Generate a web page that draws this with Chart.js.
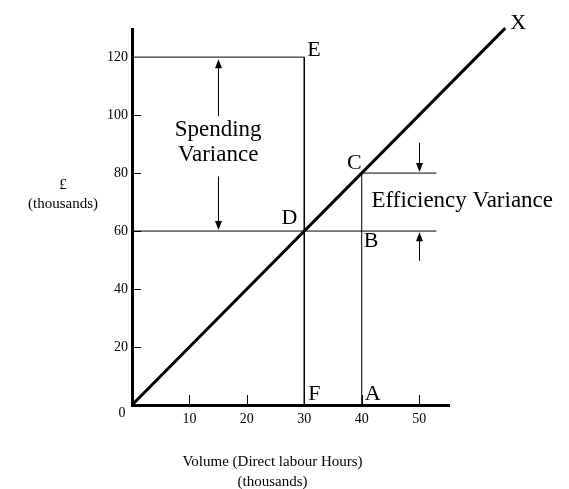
<!DOCTYPE html>
<html>
<head>
<meta charset="utf-8">
<script src="https://cdn.jsdelivr.net/npm/chart.js@4.4.1/dist/chart.umd.min.js"></script>
<style>
  html, body { margin: 0; background: #fff; }
</style>
</head>
<body>
<canvas id="myChart" width="569" height="489"></canvas>
<script>
const SERIF = "'Liberation Serif', 'Times New Roman', serif";

// dati del grafico (migliaia di ore / migliaia di sterline)
const costLine = [{ x: 0, y: 0 }, { x: 65, y: 130 }];          // O -> X
const spendBox = [{ x: 0, y: 120 }, { x: 30, y: 120 }, { x: 30, y: 0 }]; // E, F
const standardLine = [{ x: 0, y: 60 }, { x: 53, y: 60 }];       // D, B
const actualBox = [{ x: 40, y: 0 }, { x: 40, y: 80 }, { x: 53, y: 80 }]; // A, C

const xTickValues = [10, 20, 30, 40, 50];
const yTickValues = [20, 40, 60, 80, 100, 120];

// frecce: posizione x, inizio asta, punta
const arrowX = [15, 15, 50, 50];
const arrowFrom = [99.6, 78.8, 90.5, 49.8];
const arrowTo = [119.3, 60.4, 80.4, 59.6];

const pointNames = ['E', 'X', 'C', 'D', 'B', 'F', 'A'];
const pointX = [30, 65, 40, 30, 40, 30, 40];
const pointY = [120, 130, 80, 60, 60, 0, 0];

const noteTexts = [['Spending', 'Variance'], ['Efficiency Variance']];
const noteX = [15, 41.7];
const noteY = [90.5, 70.4];

const yTitle = ['£', '(thousands)'];
const xTitle = ['Volume (Direct labour Hours)', '(thousands)'];

function lineSet(data, width) {
  return {
    data, showLine: true, borderColor: '#000', borderWidth: width,
    pointRadius: 0, tension: 0, clip: false, fill: false
  };
}

const annotations = {
  id: 'annotations',
  afterDatasetsDraw(chart) {
    const { ctx, scales: { x, y } } = chart;
    const x0 = x.getPixelForValue(0);
    const y0 = y.getPixelForValue(0);
    ctx.save();
    ctx.strokeStyle = '#000';
    ctx.fillStyle = '#000';
    ctx.lineWidth = 1;

    // tacche interne
    ctx.beginPath();
    yTickValues.filter(v => v < 120).forEach(v => {
      const py = Math.round(y.getPixelForValue(v)) + 0.5;
      ctx.moveTo(x0, py); ctx.lineTo(x0 + 9, py);
    });
    xTickValues.forEach(v => {
      const px = Math.round(x.getPixelForValue(v)) + 0.5;
      ctx.moveTo(px, y0); ctx.lineTo(px, y0 - 10);
    });
    ctx.stroke();

    // frecce
    arrowX.forEach((v, i) => {
      const px = Math.round(x.getPixelForValue(v)) + 0.5;
      const pf = y.getPixelForValue(arrowFrom[i]);
      const pt = y.getPixelForValue(arrowTo[i]);
      const dir = pt < pf ? 1 : -1;
      ctx.beginPath();
      ctx.moveTo(px, pf); ctx.lineTo(px, pt + dir * 8);
      ctx.stroke();
      ctx.beginPath();
      ctx.moveTo(px, pt);
      ctx.lineTo(px - 3.5, pt + dir * 9);
      ctx.lineTo(px + 3.5, pt + dir * 9);
      ctx.closePath();
      ctx.fill();
    });

    // lettere
    const offs = { E: [3, -7, 'left'], X: [5, -5, 'left'], C: [0, -10, 'right'], D: [-7, -13, 'right'],
                   B: [2, 10, 'left'], F: [4, -11, 'left'], A: [3, -11, 'left'] };
    ctx.font = '22px ' + SERIF;
    ctx.textBaseline = 'middle';
    pointNames.forEach((n, i) => {
      const o = offs[n];
      ctx.textAlign = o[2];
      ctx.fillText(n, x.getPixelForValue(pointX[i]) + o[0], y.getPixelForValue(pointY[i]) + o[1]);
    });

    // note
    ctx.font = '23px ' + SERIF;
    noteTexts.forEach((lines, i) => {
      ctx.textAlign = lines.length > 1 ? 'center' : 'left';
      lines.forEach((t, j) => {
        ctx.fillText(t, x.getPixelForValue(noteX[i]), y.getPixelForValue(noteY[i]) + (j - (lines.length - 1) / 2) * 25);
      });
    });

    // origine e titoli
    ctx.font = '14px ' + SERIF;
    ctx.textAlign = 'center';
    ctx.fillText('0', x0 - 10, y0 + 8);
    ctx.font = '15px ' + SERIF;
    yTitle.forEach((t, j) => ctx.fillText(t, 63, y.getPixelForValue(76) + j * 19));
    xTitle.forEach((t, j) => ctx.fillText(t, x0 + 140.5, y0 + 57 + j * 20));
    ctx.restore();
  }
};

const ctx = document.getElementById('myChart').getContext('2d');
const chart = new Chart(ctx, {
  type: 'scatter',
  data: {
    datasets: [
      lineSet(spendBox, 1),
      lineSet(standardLine, 1),
      lineSet(actualBox, 1),
      lineSet(costLine, 3)
    ]
  },
  options: {
    responsive: false,
    animation: false,
    layout: { padding: { left: 0, top: 29, right: 120, bottom: 0 } },
    plugins: { legend: { display: false }, tooltip: { enabled: false } },
    scales: {
      x: {
        type: 'linear', min: 0, max: 55.2,
        grid: { display: false, drawTicks: false },
        border: { display: true, width: 3, color: '#000' },
        ticks: {
          stepSize: 10, includeBounds: false, padding: 6, color: '#000',
          font: { family: SERIF, size: 14 },
          callback: v => xTickValues.includes(v) ? String(v) : ''
        },
        afterFit: s => { s.height = 84; }
      },
      y: {
        type: 'linear', min: 0, max: 129.7,
        grid: { display: false, drawTicks: false },
        border: { display: true, width: 3, color: '#000' },
        ticks: {
          stepSize: 20, includeBounds: false, padding: 4, color: '#000',
          font: { family: SERIF, size: 14 },
          callback: v => yTickValues.includes(v) ? String(v) : ''
        },
        afterFit: s => { s.width = 132; }
      }
    }
  },
  plugins: [annotations]
});
</script>
</body>
</html>
